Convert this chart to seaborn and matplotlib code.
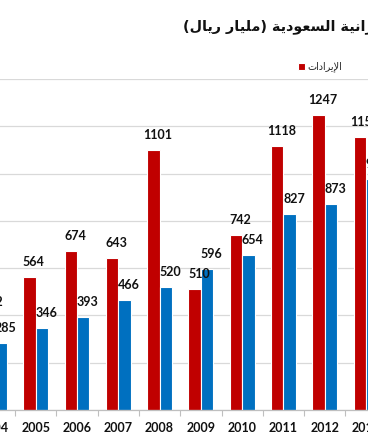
import numpy as np
import matplotlib
matplotlib.use('Agg')
import matplotlib.pyplot as plt
import pandas as pd
import seaborn as sns

# data (billion riyals)
years = ['2004', '2005', '2006', '2007', '2008', '2009', '2010', '2011', '2012', '2013']
revenue = [392, 564, 674, 643, 1101, 510, 742, 1118, 1247, 1156]
spending = [285, 346, 393, 466, 520, 596, 654, 827, 873, 976]
series_names = ['الإيرادات', 'المصروفات']
title = 'ميزانية السعودية (مليار ريال)'

colors = ['#C00000', '#0070C0']

# matplotlib has no arabic shaping / rtl -> small helper using presentation forms
FORMS = {
    'ا': ('\ufe8d', '\ufe8e'), 'إ': ('\ufe87', '\ufe88'), 'ة': ('\ufe93', '\ufe94'),
    'د': ('\ufea9', '\ufeaa'), 'ر': ('\ufead', '\ufeae'), 'ز': ('\ufeaf', '\ufeb0'),
    'و': ('\ufeed', '\ufeee'), 'لإ': ('\ufef9', '\ufefa'),
    'ت': ('\ufe95', '\ufe96', '\ufe97', '\ufe98'), 'س': ('\ufeb1', '\ufeb2', '\ufeb3', '\ufeb4'),
    'ص': ('\ufeb9', '\ufeba', '\ufebb', '\ufebc'), 'ع': ('\ufec9', '\ufeca', '\ufecb', '\ufecc'),
    'ف': ('\ufed1', '\ufed2', '\ufed3', '\ufed4'), 'ل': ('\ufedd', '\ufede', '\ufedf', '\ufee0'),
    'م': ('\ufee1', '\ufee2', '\ufee3', '\ufee4'), 'ن': ('\ufee5', '\ufee6', '\ufee7', '\ufee8'),
    'ي': ('\ufef1', '\ufef2', '\ufef3', '\ufef4'),
}

def shape(text):
    toks, i = [], 0
    while i < len(text):
        if text[i:i+2] == 'لإ':
            toks.append('لإ'); i += 2
        else:
            toks.append(text[i]); i += 1
    out = []
    for k, t in enumerate(toks):
        if t not in FORMS:
            out.append(t); continue
        f = FORMS[t]
        prev = toks[k-1] if k > 0 else ''
        nxt = toks[k+1] if k + 1 < len(toks) else ''
        p = prev in FORMS and len(FORMS[prev]) == 4
        n = len(f) == 4 and nxt in FORMS
        if p and n: g = f[3]
        elif p: g = f[1]
        elif n: g = f[2]
        else: g = f[0]
        out.append(g)
    mirror = {'(': ')', ')': '('}
    return ''.join(mirror.get(c, c) for c in reversed(out))

sns.set_theme(style='white', rc={'axes.facecolor': 'white', 'figure.facecolor': 'white'})

df = pd.DataFrame({
    'year': years * 2,
    'value': revenue + spending,
    'series': [shape(series_names[0])] * len(years) + [shape(series_names[1])] * len(years),
})

fig = plt.figure(figsize=(3.68, 4.45), dpi=100)
# chart is cropped on both sides like the original screenshot
ax = fig.add_axes([-26.3/368, 35/445, 413/368, 331/445])
sns.barplot(df, x='year', y='value', hue='series', palette=colors, width=0.6,
            saturation=1, edgecolor='white', linewidth=0.8, ax=ax)

handles, labels = ax.get_legend_handles_labels()
ax.legend_.remove()
fig.legend(handles, labels, loc='center left', bbox_to_anchor=(298/368, 1 - 67/445),
           ncol=2, frameon=False, borderpad=0, borderaxespad=0, handlelength=0.7,
           handleheight=0.7, handletextpad=0.25, columnspacing=5,
           prop={'family': 'DejaVu Sans', 'size': 6.9})

for c in ax.containers:
    anns = ax.bar_label(c, fmt='%d', padding=6, fontsize=9, fontweight='bold',
                        family='Lato', color='#111111')
    for a in anns:
        a.xyann = (3.2, 6.5)

ax.set_ylim(0, 1400)
ax.set_yticks(np.arange(0, 1401, 200))
ax.set_yticklabels([])
ax.tick_params(axis='y', length=0)
ax.yaxis.grid(True, color='#d9d9d9', linewidth=0.9)
ax.set_axisbelow(True)
ax.set_xlim(-0.5, len(years) - 0.5)
ax.set_xlabel('')
ax.set_ylabel('')
ax.set_xticks(np.arange(-0.5, len(years), 1), minor=True)
ax.tick_params(axis='x', which='major', length=0, pad=9)
ax.tick_params(axis='x', which='minor', length=4, width=0.8, color='#bfbfbf', direction='out', bottom=True)
for lab in ax.get_xticklabels():
    lab.set_fontfamily('Lato')
    lab.set_fontweight('bold')
    lab.set_fontsize(9)
    lab.set_color('#111111')
for s in ['top', 'left', 'right']:
    ax.spines[s].set_visible(False)
ax.spines['bottom'].set_color('#bfbfbf')
ax.spines['bottom'].set_linewidth(0.9)

fig.text(183/368, 1 - 27/445, shape(title), ha='left', va='center',
         fontsize=10.4, fontweight='bold', family='DejaVu Sans', color='#111111')

fig.savefig('out.png', dpi=100)
